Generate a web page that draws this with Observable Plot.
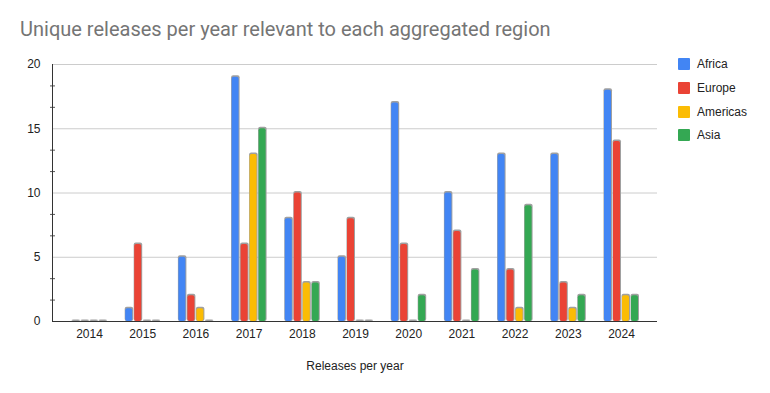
<!DOCTYPE html>
<html><head><meta charset="utf-8">
<script src="https://cdn.jsdelivr.net/npm/d3@7"></script>
<script src="https://cdn.jsdelivr.net/npm/@observablehq/plot@0.6"></script>
<style>
body{margin:0;background:#fff;}
#wrap{position:relative;width:770px;height:393px;overflow:hidden;}
#title{position:absolute;left:20px;top:17px;font-family:Roboto,"Liberation Sans",Arial,sans-serif;font-size:20px;color:#757575;white-space:nowrap;}
#legend{position:absolute;left:678px;top:57px;font-family:"Liberation Sans",Arial,sans-serif;font-size:12px;color:#222;}
.item{position:relative;height:23.8px;}
.sw{position:absolute;left:0;top:1px;width:12px;height:12px;border-radius:1px;}
.lb{position:absolute;left:19px;top:0;line-height:14px;}
</style></head>
<body><div id="wrap"><div id="title"></div><div id="legend"></div></div>
<script>
const titleText = "Unique releases per year relevant to each aggregated region";
const xLabel = "Releases per year";
const years = ["2014","2015","2016","2017","2018","2019","2020","2021","2022","2023","2024"];
const regions = ["Africa","Europe","Americas","Asia"];
const colors = ["#4285F4","#EA4335","#FBBC04","#34A853"];
const africa   = [0,1,5,19,8,5,17,10,13,13,18];
const europe   = [0,6,2,6,10,8,6,7,4,3,14];
const americas = [0,0,1,13,3,0,0,0,1,1,2];
const asia     = [0,0,0,15,3,0,2,4,9,2,2];
const yTicks = [0,5,10,15,20];
const yMinor = [5/3,10/3,20/3,25/3,35/3,40/3,50/3,55/3];

const series = [africa, europe, americas, asia];
const data = years.flatMap((y,j)=>regions.map((r,i)=>({year:y, region:r, value:series[i][j]})));

document.getElementById("title").textContent = titleText;
const leg = document.getElementById("legend");
regions.forEach((r,i)=>{
  const d = document.createElement("div"); d.className="item";
  d.innerHTML = `<div class="sw" style="background:${colors[i]}"></div><div class="lb">${r}</div>`;
  leg.appendChild(d);
});

const bw = 53.2, pitch = 9, barW = 7;
const groupStart = (bw - (pitch*3 + barW))/2;
const marks = [
  Plot.ruleY(yTicks.filter(d=>d>0), {stroke:"#cccccc", strokeWidth:1}),
  Plot.axisY({ticks: yMinor, tickSize: 5, dx: 3, tickFormat: ()=>"", stroke:"#555"}),
  Plot.axisY({ticks: yTicks, tickSize: 0, tickPadding: 12, fontSize: 12, fill:"#222"}),
  Plot.axisX({tickSize: 0, tickPadding: 8, fontSize: 12, fill:"#222", label: xLabel, labelAnchor:"center", labelOffset: 48})
];
regions.forEach((r,i)=>{
  const left = groupStart + pitch*i;
  const right = bw - left - barW;
  const sub = data.filter(d=>d.region===r);
  marks.push(Plot.barY(sub, {x:"year", y:"value", fill:"#a0a0a0", insetLeft:left-0.5, insetRight:right-1, insetTop:-1.5, insetBottom:0, rx:2}));
  marks.push(Plot.barY(sub, {x:"year", y:"value", fill:colors[i], insetLeft:left, insetRight:right, insetTop:0, insetBottom:0, rx:2}));
});
marks.push(Plot.frame({anchor:"left", stroke:"#333"}));
marks.push(Plot.ruleY([0], {stroke:"#333"}));

const chart = Plot.plot({
  width: 770, height: 393,
  marginLeft: 52, marginRight: 113, marginTop: 64, marginBottom: 72,
  style: {fontFamily: '"Liberation Sans", Arial, sans-serif', background: "transparent"},
  x: {domain: years, range: [62.4, 62.4 + bw*years.length], padding: 0, round: false, align: 0.5, label: null},
  y: {domain: [0,20], label: null},
  marks
});
chart.style.position = "absolute"; chart.style.left = "0"; chart.style.top = "0";
document.getElementById("wrap").insertBefore(chart, document.getElementById("title"));
</script></body></html>
